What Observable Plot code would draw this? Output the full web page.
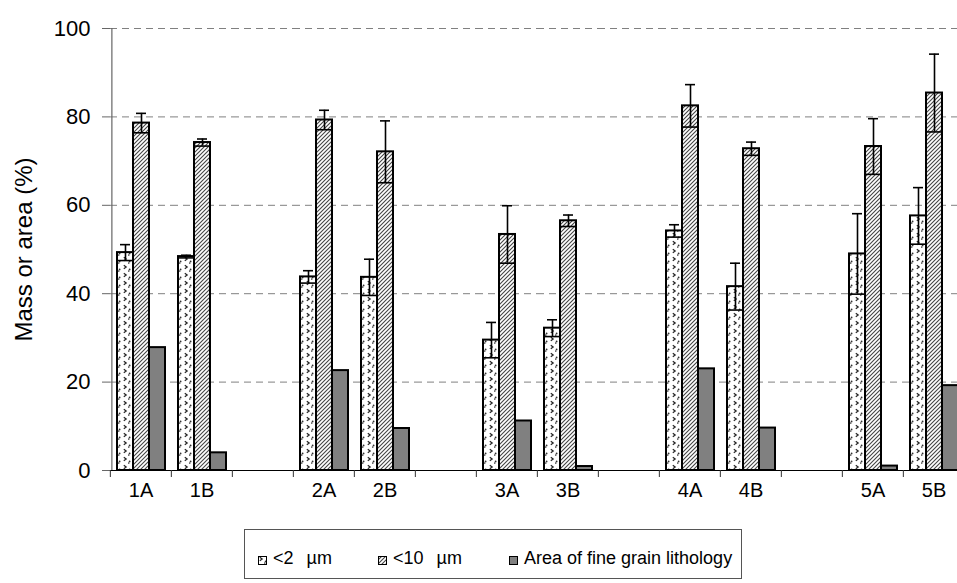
<!DOCTYPE html>
<html><head><meta charset="utf-8">
<script src="https://cdn.jsdelivr.net/npm/d3@7"></script>
<script src="https://cdn.jsdelivr.net/npm/@observablehq/plot@0.6"></script>
<style>
html,body{margin:0;padding:0;overflow:hidden;background:#fff;width:957px;height:583px}
#chart{position:absolute;left:0;top:0;width:980px}
#legend{position:absolute;left:244px;top:529px;width:498px;height:50px;border:1px solid #555;box-sizing:border-box;
  font-family:"Liberation Sans",Arial,sans-serif;font-size:18px;color:#000;line-height:18px;white-space:nowrap}
#legend .item{position:absolute;top:19px}
#legend .sw{position:absolute;left:0;top:7px;width:9px;height:9px}
#legend .tx{position:absolute;left:15px;top:0}
</style></head><body>
<div id="chart"></div>
<div id="legend"></div>
<script>
// ---- data ----
const slots = ["1A","1B","gap1","2A","2B","gap2","3A","3B","gap3","4A","4B","gap4","5A","5B"];
const samples = ["1A","1B","2A","2B","3A","3B","4A","4B","5A","5B"];
const series = ["<2 µm","<10 µm","Area of fine grain lithology"];
const fine2 = [49.3, 48.4, 43.8, 43.7, 29.5, 32.2, 54.2, 41.6, 49.0, 57.6];
const fine2Err = [1.8, 0.3, 1.4, 4.1, 4.0, 1.9, 1.4, 5.3, 9.1, 6.4];
const fine10 = [78.6, 74.2, 79.3, 72.1, 53.4, 56.5, 82.5, 72.8, 73.3, 85.4];
const fine10Err = [2.2, 0.8, 2.2, 7.0, 6.5, 1.3, 4.8, 1.5, 6.3, 8.8];
const area = [27.8, 4.0, 22.6, 9.5, 11.2, 0.9, 23.0, 9.6, 1.0, 19.2];
const yTicks = [0, 20, 40, 60, 80, 100];

// ---- table ----
const rows = samples.flatMap((s, i) => [
  {slot: s, series: series[0], value: fine2[i], err: fine2Err[i]},
  {slot: s, series: series[1], value: fine10[i], err: fine10Err[i]},
  {slot: s, series: series[2], value: area[i], err: null}
]);
const errRows = rows.filter(d => d.err != null);

const fills = ["url(#pDots)", "url(#pHatch)", "#808080"];
const W = 980, H = 520, ML = 108, MR = 14;
const PAD = 0.3;
const bw = (W - ML - MR) / slots.length;
const step = bw / (series.length + 2 * PAD);
const font = "Liberation Sans, Arial, sans-serif";

const chart = Plot.plot({
  width: W, height: H,
  marginLeft: ML, marginRight: MR, marginTop: 28, marginBottom: 50,
  fx: {domain: slots, padding: 0, label: null},
  x: {domain: series, paddingInner: 0, paddingOuter: PAD, axis: null},
  y: {domain: [0, 100], label: null},
  color: {domain: series, range: fills},
  style: {fontFamily: font, background: "white", color: "black"},
  marks: [
    Plot.gridY(yTicks, {stroke: "#808080", strokeOpacity: 1, strokeWidth: 1, strokeDasharray: "7,5"}),
    Plot.barY(rows, {fx: "slot", x: "series", y: "value", fill: "series", stroke: "black", strokeWidth: 2, inset: 0}),
    Plot.tickY(errRows, {fx: "slot", x: "series", y: d => d.value - d.err, stroke: "black", strokeWidth: 1.6}),
    Plot.ruleX(errRows, {fx: "slot", x: "series", y1: d => d.value - d.err, y2: d => d.value + d.err, stroke: "black", strokeWidth: 1.6}),
    Plot.tickY(errRows, {fx: "slot", x: "series", y: d => d.value + d.err, stroke: "black", strokeWidth: 1.6, inset: 3}),
    // x axis line across every slot (also keeps the empty gap slots rendered)
    Plot.ruleY(slots, {fx: d => d, y: () => 0, stroke: "black", strokeWidth: 1.2}),
    // y axis line at the left edge of the first slot
    Plot.ruleX([slots[0]], {fx: d => d, x: () => series[0], y1: () => 0, y2: () => 100, dx: -(PAD + 0.5) * step, stroke: "#666", strokeWidth: 1.2}),
    Plot.axisY({ticks: yTicks, tickSize: 8, tickPadding: 12, fontSize: 22, stroke: "#666", strokeOpacity: 1, label: null, facetAnchor: "left"}),
    Plot.axisFx({anchor: "bottom", tickSize: 0, tickPadding: 12, fontSize: 20, label: null, tickFormat: d => d.startsWith("gap") ? "" : d}),
    Plot.axisFx({anchor: "bottom", tickSize: 7, tickPadding: 0, label: null, tickFormat: () => "", dx: -bw / 2, stroke: "#333", strokeOpacity: 1}),
    Plot.text(["Mass or area (%)"], {frameAnchor: "left", rotate: -90, dx: -86, dy: 0, facetAnchor: "left", fontSize: 24, textAnchor: "middle", fill: "black"})
  ]
});

const defs = `
<pattern id="pDots" width="10" height="8" patternUnits="userSpaceOnUse">
  <rect width="10" height="8" fill="white"/>
  <path d="M1.8,1.2 L4.2,3 L1.8,4.8" stroke="#222" stroke-width="1.2" fill="none"/>
  <circle cx="7.6" cy="5.4" r="0.9" fill="#333"/>
  <circle cx="6.8" cy="7.1" r="0.8" fill="#333"/>
</pattern>
<pattern id="pHatch" width="4" height="4" patternUnits="userSpaceOnUse">
  <rect width="4" height="4" fill="white"/>
  <path d="M-1,1 l2,-2 M0,4 l4,-4 M3,5 l2,-2" stroke="#444" stroke-width="1.1"/>
</pattern>`;
d3.select(chart).insert("defs", ":first-child").html(defs);
document.getElementById("chart").appendChild(chart);

// ---- legend ----
const legendLeft = [13, 133, 264];
const legend = d3.select("#legend");
series.forEach((s, i) => {
  const item = legend.append("div").attr("class", "item").style("left", legendLeft[i] + "px");
  const sw = item.append("svg").attr("class", "sw").attr("width", 9).attr("height", 9);
  sw.append("rect").attr("x", 0.5).attr("y", 0.5).attr("width", 8).attr("height", 8)
    .attr("fill", fills[i]).attr("stroke", "black").attr("stroke-width", 1);
  item.append("span").attr("class", "tx").style("word-spacing", i < 2 ? "8px" : "0").text(s);
});
</script>
</body></html>
